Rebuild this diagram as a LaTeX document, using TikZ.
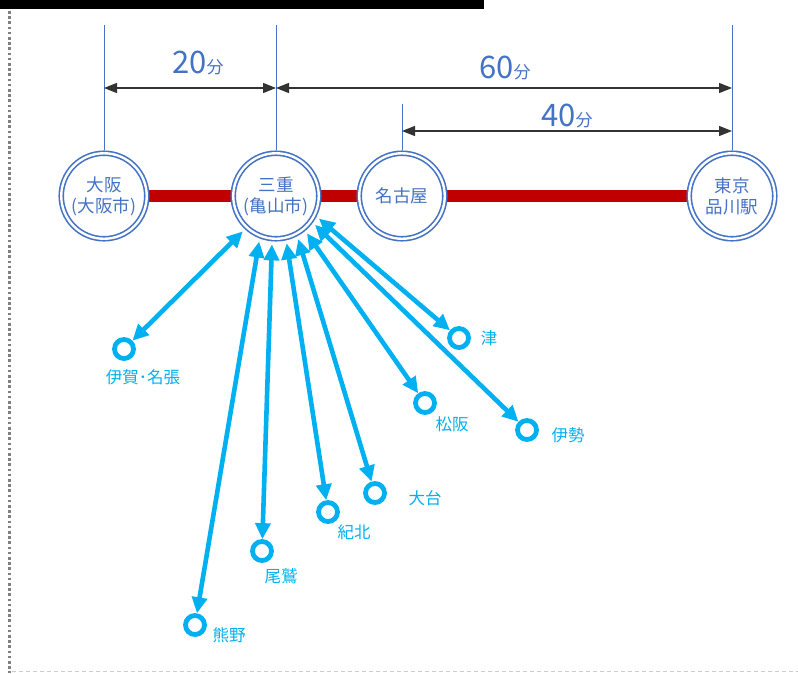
\documentclass[tikz,border=0pt]{standalone}
\usepackage{fontspec}
\setmainfont{Noto Sans CJK JP}
\usetikzlibrary{arrows.meta,backgrounds,positioning}
\definecolor{lineblue}{HTML}{4472C4}
\definecolor{skyblue}{HTML}{00B0F0}
\definecolor{railred}{HTML}{C00000}

\begin{document}
\begin{tikzpicture}[x=1pt,y=-1pt,
  station/.style={circle,draw=lineblue,line width=1.6pt,double=white,
    double distance=2.4pt,fill=white,minimum size=85.5pt,inner sep=0pt,
    outer sep=2.8pt,text=lineblue,align=center,
    font=\fontsize{17.5}{21}\selectfont},
  town/.style={circle,draw=skyblue,line width=4.8pt,minimum size=19pt,
    inner sep=0pt,outer sep=2.4pt},
  townlabel/.style={text=skyblue,inner sep=0pt,
    font=\fontsize{16.5}{18}\selectfont},
  spoke/.style={skyblue,line width=4.6pt,shorten <=3pt,
    {Triangle[length=16pt,width=15pt]}-{Triangle[length=16pt,width=15pt]}},
  guide/.style={lineblue,line width=0.9pt},
  dimarrow/.style={black!80,line width=1.2pt,
    {Triangle[length=13pt,width=10pt]}-{Triangle[length=13pt,width=10pt]}},
  dimlabel/.style={text=lineblue,anchor=base,inner sep=0pt,
    font=\fontsize{31}{31}\selectfont}
]
\useasboundingbox (0,0) rectangle (798,673);

% Frame
\fill[black] (0,0) rectangle (484,9);
\draw[gray,line width=3pt,dash pattern=on 2.6pt off 2.6pt] (9,11) -- (9,673);
\draw[gray!40,line width=0.9pt,dash pattern=on 4pt off 3pt] (12,671) -- (798,671);

% Stations
\node[station] (osaka) at (104,196) {大阪\\(大阪市)};
\node[station] (mie) at (276,196) {三重\\(亀山市)};
\node[station] (nagoya) at (402,196) {名古屋};
\node[station] (tokyo) at (732,196) {東京\\品川駅};

% Rail line
\begin{pgfonlayer}{background}
\draw[railred,line width=12pt] (osaka.center) -- (tokyo.center);
\end{pgfonlayer}

% Guide lines
\coordinate (osaka-top) at (104,25);
\coordinate (mie-top) at (276,25);
\coordinate (nagoya-top) at (402,104);
\coordinate (tokyo-top) at (732,25);
\draw[guide] (osaka-top) -- (osaka.north);
\draw[guide] (mie-top) -- (mie.north);
\draw[guide] (nagoya-top) -- (nagoya.north);
\draw[guide] (tokyo-top) -- (tokyo.north);

% Travel times
\coordinate (d20a) at (104,88);
\coordinate (d20b) at (276,88);
\coordinate (d60b) at (732,88);
\coordinate (d40a) at (402,131);
\coordinate (d40b) at (732,131);
\draw[dimarrow] (d20a) -- (d20b);
\draw[dimarrow] (d20b) -- (d60b);
\draw[dimarrow] (d40a) -- (d40b);

\node[dimlabel] (t20) at (198,73) {20{\fontsize{17}{17}\selectfont 分}};
\node[dimlabel] (t60) at (505,78) {60{\fontsize{17}{17}\selectfont 分}};
\node[dimlabel] (t40) at (567,126) {40{\fontsize{17}{17}\selectfont 分}};

% Towns
\node[town] (iga) at (124,349) {};
\node[town] (tsu) at (459,338) {};
\node[town] (matsusaka) at (425,403) {};
\node[town] (ise) at (527,430) {};
\node[town] (odai) at (375,493) {};
\node[town] (kihoku) at (328,512) {};
\node[town] (owase) at (262,551) {};
\node[town] (kumano) at (195,625) {};

\node[townlabel] (iga-l) at (143,377) {伊賀･名張};
\node[townlabel] (tsu-l) at (489,338) {津};
\node[townlabel] (matsusaka-l) at (452,424) {松阪};
\node[townlabel] (ise-l) at (568,435) {伊勢};
\node[townlabel] (odai-l) at (425,498) {大台};
\node[townlabel] (kihoku-l) at (354,532) {紀北};
\node[townlabel] (owase-l) at (281,576) {尾鷲};
\node[townlabel] (kumano-l) at (229,635) {熊野};

% Spokes from Mie
\draw[spoke] (mie.-133) -- (iga);
\draw[spoke] (mie.-111) -- (kumano);
\draw[spoke] (mie.-95) -- (owase);
\draw[spoke] (mie.-77) -- (kihoku);
\draw[spoke] (mie.-62) -- (odai);
\draw[spoke] (mie.-50) -- (matsusaka);
\draw[spoke] (mie.-36) -- (ise);
\draw[spoke] (mie.-27) -- (tsu);

\end{tikzpicture}
\end{document}
